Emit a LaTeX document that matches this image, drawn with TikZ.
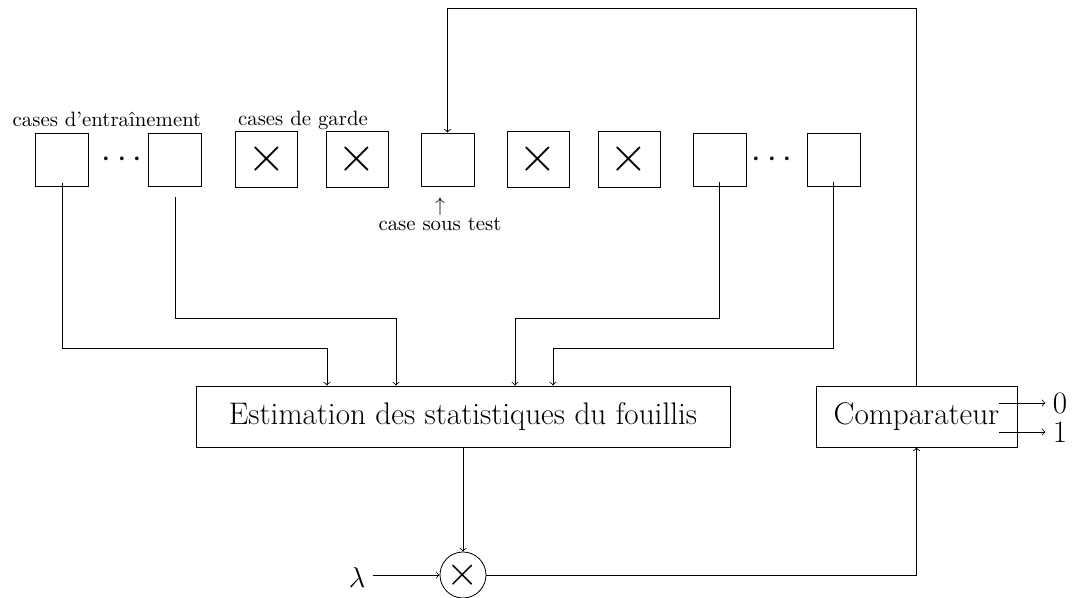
\documentclass[tikz,border=0pt]{standalone}
\usetikzlibrary{calc}
\begin{document}
\begin{tikzpicture}[x=0.5pt,y=-0.5pt,
  big/.style={font=\fontsize{15.6}{18}\selectfont},
  small/.style={font=\fontsize{10.4}{9.5}\selectfont},
  dots/.style={font=\fontsize{17.28}{18}\selectfont, inner sep=0pt},
  cell/.style={draw, minimum width=26.5pt, minimum height=26.5pt, inner sep=0pt},
  xcell/.style={draw, minimum width=31pt, minimum height=28pt, inner sep=0pt, font=\fontsize{24}{24}\selectfont},
  block/.style={draw, minimum height=30.5pt, inner sep=2pt, big},
  conn/.style={->}]
\useasboundingbox (0,0) rectangle (1073,598);
% top row of cells
\node[cell] (b1) at (62,159.5) {};
\node[dots] (d1) at (122,160) {$\cdots$};
\node[cell] (b2) at (175,159.5) {};
\node[xcell] (b3) at (266.5,159) {$\times$};
\node[xcell] (b4) at (357,159) {$\times$};
\node[cell] (b5) at (447.5,159.5) {};
\node[xcell] (b6) at (538,159) {$\times$};
\node[xcell] (b7) at (629,159) {$\times$};
\node[cell] (b8) at (719.5,159.5) {};
\node[dots] (d2) at (772,159.5) {$\cdots$};
\node[cell] (b9) at (833.5,159.5) {};
% labels
\node[small, anchor=base] (l1) at (107,127) {cases d'entraînement};
\node[small, anchor=base] (l2) at (303,126) {cases de garde};
\node[small, align=center, inner sep=0pt] (l3) at (440,214) {$\uparrow$\\case sous test};
% blocks
\node[block, minimum width=267pt] (est) at (463,416.5) {Estimation des statistiques du fouillis};
\node[block, minimum width=100.5pt] (comp) at (916.5,416.5) {Comparateur};
\node[draw, circle, minimum size=23pt, inner sep=0pt, font=\fontsize{21}{21}\selectfont] (mul) at (463,575) {$\times$};
\node[big, inner sep=3.5pt] (lam) at (357,578) {$\lambda$};
\node[big, inner sep=3.5pt] (o0) at (1060,403) {0};
\node[big, inner sep=3.5pt] (o1) at (1060,432) {1};
% connectors
\draw[conn] ([yshift=1.5pt]b1.south) |- (327,348) -- (est.north -| 327,0);
\draw[conn] ([yshift=-5.5pt]b2.south) |- (396,318) -- (est.north -| 396,0);
\draw[conn] ([yshift=2pt]b8.south) |- (515,318) -- (est.north -| 515,0);
\draw[conn] ([yshift=2pt]b9.south) |- (553,348) -- (est.north -| 553,0);
\draw[conn] (comp.north) -- (comp.north |- 0,8) -| (b5.north);
\draw[conn] (est.south) -- (mul.north);
\draw[conn] (lam.east |- mul.west) -- (mul.west);
\draw[conn] (mul.east) -| (comp.south);
\draw[conn] ($(comp.east |- o0.west)+(-18,0)$) -- (o0.west);
\draw[conn] ($(comp.east |- o1.west)+(-18,0)$) -- (o1.west);
\end{tikzpicture}
\end{document}
